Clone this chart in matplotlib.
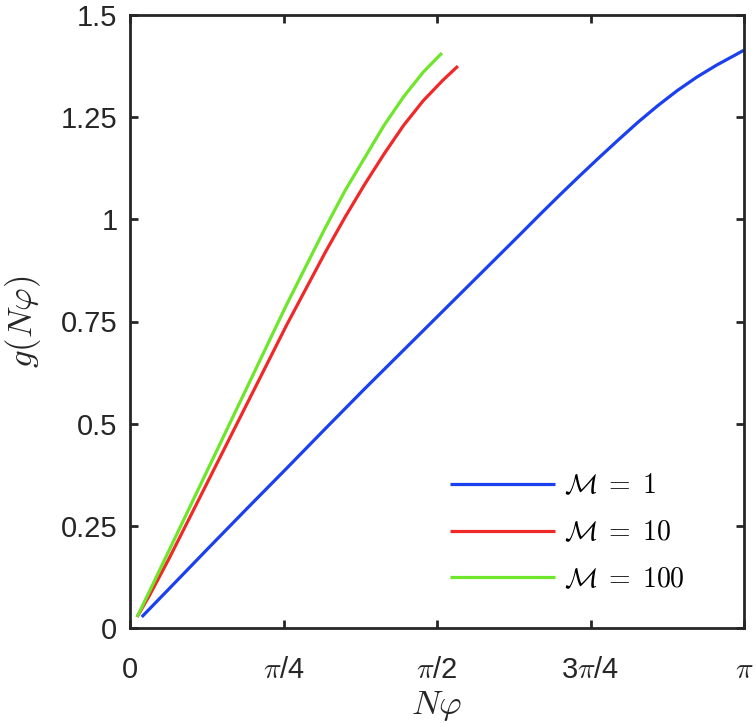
import numpy as np
import matplotlib
matplotlib.use("Agg")
import matplotlib.pyplot as plt

plt.rcParams['font.family'] = ['Liberation Sans', 'DejaVu Sans']
plt.rcParams['mathtext.fontset'] = 'cm'

# Data
x_m1 = [0.06, 0.2, 0.4, 0.6, 0.8, 1.0, 1.2, 1.4, 1.6, 1.8, 2.0, 2.1, 2.2, 2.3, 2.4, 2.5, 2.6, 2.7, 2.8, 2.9, 3.0, 3.1, np.pi]
g_m1 = [0.027, 0.096, 0.195, 0.293, 0.39, 0.488, 0.585, 0.68, 0.775, 0.87, 0.965, 1.013, 1.060, 1.106, 1.151, 1.195, 1.238, 1.278, 1.315, 1.348, 1.377, 1.403, 1.414]

x_m10 = [0.036, 0.1, 0.2, 0.3, 0.4, 0.5, 0.6, 0.7, 0.8, 0.9, 1.0, 1.1, 1.2, 1.3, 1.4, 1.5, 1.6, 1.678]
g_m10 = [0.027, 0.08, 0.17, 0.265, 0.36, 0.455, 0.55, 0.645, 0.74, 0.83, 0.92, 1.005, 1.085, 1.16, 1.23, 1.29, 1.34, 1.375]

x_m100 = [0.036, 0.1, 0.2, 0.3, 0.4, 0.5, 0.6, 0.7, 0.8, 0.9, 1.0, 1.1, 1.2, 1.3, 1.4, 1.5, 1.596]
g_m100 = [0.027, 0.09, 0.19, 0.29, 0.39, 0.49, 0.59, 0.69, 0.79, 0.885, 0.98, 1.07, 1.15, 1.23, 1.30, 1.36, 1.407]

labels = [r'$\mathcal{M}\;=\;1$', r'$\mathcal{M}\;=\;10$', r'$\mathcal{M}\;=\;100$']
colors = ['#1a40f0', '#f02828', '#6ee62a']

xticks = [0, np.pi/4, np.pi/2, 3*np.pi/4, np.pi]
xticklabels = ['0', r'$\pi$/4', r'$\pi$/2', r'3$\pi$/4', r'$\pi$']
yticks = [0, 0.25, 0.5, 0.75, 1, 1.25, 1.5]
yticklabels = ['0', '0.25', '0.5', '0.75', '1', '1.25', '1.5']

W, H = 756, 723
fig = plt.figure(figsize=(W/100, H/100), dpi=100)
ax = fig.add_axes([130/W, (H-628)/H, 614/W, 613/H])

for xs, gs, c, lab in zip([x_m1, x_m10, x_m100], [g_m1, g_m10, g_m100], colors, labels):
    ax.plot(xs, gs, color=c, lw=2.3, label=lab, solid_capstyle='butt',
            solid_joinstyle='round')

ax.set_xlim(0, np.pi)
ax.set_ylim(0, 1.5)
ax.set_xticks(xticks)
ax.set_xticklabels(xticklabels)
ax.set_yticks(yticks)
ax.set_yticklabels(yticklabels)
ax.tick_params(direction='in', length=6, width=2, top=True, right=True,
               labelsize=21, colors='#262626')
ax.tick_params(axis='x', pad=20)
ax.tick_params(axis='y', pad=9)
for s in ax.spines.values():
    s.set_linewidth(2)
    s.set_color('#262626')

ax.set_xlabel(r'$N\varphi$', fontsize=25, color='#262626', labelpad=4)
ax.set_ylabel(r'$g(N\varphi)$', fontsize=25, color='#262626', labelpad=13)

leg = ax.legend(loc='upper left', bbox_to_anchor=(0.521, 0.252), frameon=False,
                borderpad=0, borderaxespad=0, fontsize=20, handlelength=3.8,
                handletextpad=0.3, labelspacing=0.75)

fig.savefig('out.png', dpi=100)
